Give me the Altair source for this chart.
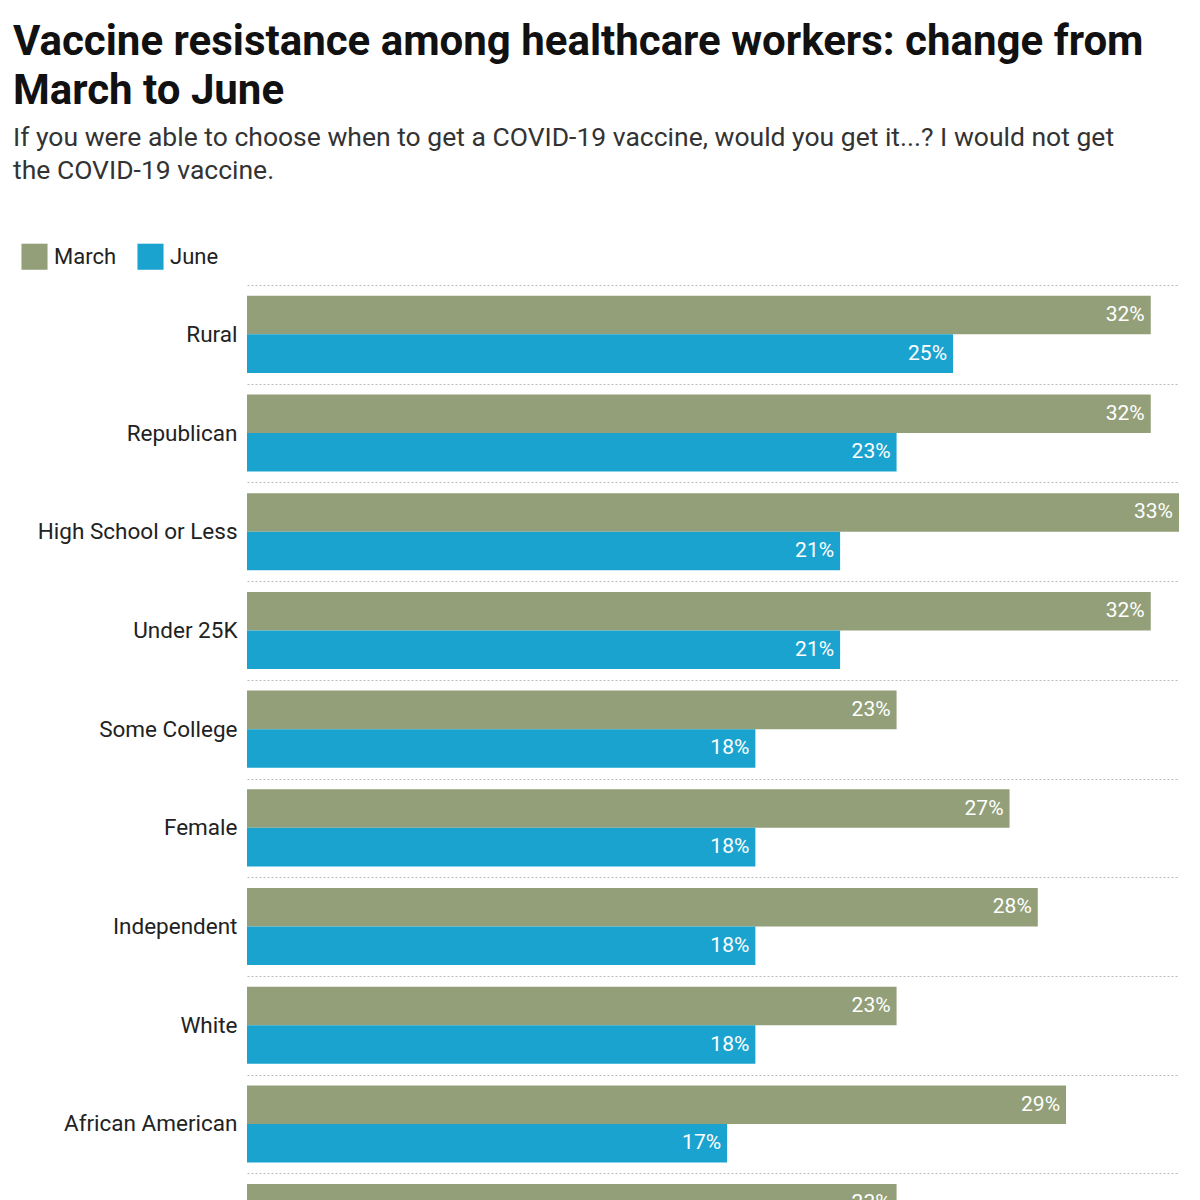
import altair as alt
import pandas as pd

categories = ["Rural", "Republican", "High School or Less", "Under 25K", "Some College",
              "Female", "Independent", "White", "African American", "25K to under 50K"]
march = [32, 32, 33, 32, 23, 27, 28, 23, 29, 23]
june = [25, 23, 21, 21, 18, 18, 18, 18, 17, 16]

rows = []
for c, m, j in zip(categories, march, june):
    rows.append({"cat": c, "series": "March", "v": m})
    rows.append({"cat": c, "series": "June", "v": j})
df = pd.DataFrame(rows)
df["label"] = df["v"].astype(str) + "%"

y = alt.Y("cat:N", sort=categories, title=None,
          scale=alt.Scale(paddingInner=0, paddingOuter=0),
          axis=alt.Axis(labelFontSize=22.5, labelColor="#222", labelPadding=10, ticks=False,
                        domain=False, grid=True, tickBand="extent", gridDash=[2, 2],
                        gridColor="#bbb", labelLimit=300))
yo = alt.YOffset("series:N", sort=["March", "June"],
                 scale=alt.Scale(paddingOuter=0.28, paddingInner=0))
x = alt.X("v:Q", scale=alt.Scale(domain=[0, 33], nice=False), axis=None)

base = alt.Chart(df).encode(y=y, yOffset=yo, x=x)
bars = base.mark_bar().encode(
    color=alt.Color("series:N", sort=["March", "June"],
                    scale=alt.Scale(domain=["March", "June"], range=["#939f78", "#1ba3d0"]),
                    legend=alt.Legend(title=None, orient="none", legendX=-226, legendY=-42,
                                      direction="horizontal", symbolType="square", symbolSize=680,
                                      symbolStrokeWidth=0, labelFontSize=22, labelColor="#222",
                                      columnPadding=20, labelOffset=6))
)
text = base.mark_text(align="right", dx=-6, color="white", fontSize=21).encode(text="label:N")

chart = (bars + text).properties(
    width=932, height=987,
    padding={"top": 12, "left": 5, "right": 5, "bottom": 5},
    title=alt.Title(["Vaccine resistance among healthcare workers: change from", "March to June"],
                    subtitle=["If you were able to choose when to get a COVID-19 vaccine, would you get it...? I would not get",
                              "the COVID-19 vaccine."],
                    anchor="start", frame="bounds", fontSize=42, fontWeight="bold", color="#111",
                    subtitleFontSize=26.5, subtitleColor="#333", subtitlePadding=12,
                    lineHeight=49, subtitleLineHeight=33, offset=58, dx=-8)
).configure(font="Roboto").configure_view(stroke=None)

chart.save("out.html", embed_options={"renderer": "svg", "actions": False})
